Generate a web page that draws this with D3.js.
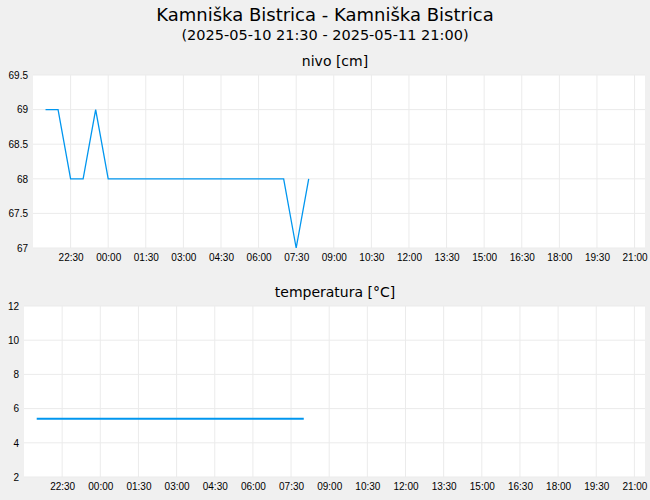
<!DOCTYPE html>
<html><head><meta charset="utf-8">
<script src="https://cdn.jsdelivr.net/npm/d3@7"></script>
<style>
body{margin:0;background:#f0f0f0;font-family:"DejaVu Sans",sans-serif;}
.tick text{font-size:10px;fill:#000;}
</style></head><body>
<svg id="c" width="650" height="500"></svg>
<script>
// level readings (time, cm)
var levelTimes = ["2025-05-10 21:30","2025-05-10 22:00","2025-05-10 22:30","2025-05-10 23:00","2025-05-10 23:30","2025-05-11 00:00","2025-05-11 07:00","2025-05-11 07:30","2025-05-11 08:00"];
var levelValues = [69, 69, 68, 68, 69, 68, 68, 67, 68];
// temperature readings (time, °C)
var tempTimes = ["2025-05-10 21:30","2025-05-11 08:00"];
var tempValues = [5.4, 5.4];
var tickLabels = ["22:30","00:00","01:30","03:00","04:30","06:00","07:30","09:00","10:30","12:00","13:30","15:00","16:30","18:00","19:30","21:00"];

var parse = d3.timeParse("%Y-%m-%d %H:%M");
var t0 = parse("2025-05-10 21:00"), t1 = parse("2025-05-11 21:25");
var tickDates = tickLabels.map(function(l, i) { return d3.timeMinute.offset(t0, 90 * (i + 1)); });

var svg = d3.select("#c");
svg.append("text").attr("x", 325).attr("y", 21).attr("text-anchor", "middle")
	.style("font-size", "18px").text("Kamniška Bistrica - Kamniška Bistrica");
svg.append("text").attr("x", 325).attr("y", 40).attr("text-anchor", "middle")
	.style("font-size", "14.5px").text("(2025-05-10 21:30 - 2025-05-11 21:00)");

function panel(o) {
	var x = d3.scaleTime().domain([t0, t1]).range([o.left, 645]);
	var y = d3.scaleLinear().domain(o.yDomain).range([o.bottom, o.top]);
	svg.append("text").attr("x", 335).attr("y", o.top - 9).attr("text-anchor", "middle")
		.style("font-size", "14px").text(o.title);
	svg.append("rect").attr("x", o.left).attr("y", o.top)
		.attr("width", 645 - o.left).attr("height", o.bottom - o.top).attr("fill", "#fff");
	var g = svg.append("g");
	g.selectAll(".vg").data(tickDates).enter().append("line")
		.attr("x1", function(d) { return x(d); }).attr("x2", function(d) { return x(d); })
		.attr("y1", o.top).attr("y2", o.bottom).attr("stroke", "#ebebeb");
	g.selectAll(".hg").data(o.yTicks).enter().append("line")
		.attr("x1", o.left).attr("x2", 645)
		.attr("y1", function(d) { return y(d); }).attr("y2", function(d) { return y(d); })
		.attr("stroke", "#ebebeb");
	var xa = svg.append("g").attr("transform", "translate(0," + o.bottom + ")")
		.call(d3.axisBottom(x).tickValues(tickDates).tickSize(0).tickPadding(6)
			.tickFormat(function(d, i) { return tickLabels[i]; }));
	xa.select(".domain").remove();
	var ya = svg.append("g").attr("transform", "translate(" + (o.left - 5) + ",0)")
		.call(d3.axisLeft(y).tickValues(o.yTicks).tickSize(0).tickPadding(0).tickFormat(o.fmt));
	ya.select(".domain").remove();
	ya.selectAll(".tick text").attr("dy", "0.32em");
	var data = o.times.map(function(t, i) { return [parse(t), o.values[i]]; });
	svg.append("path").datum(data).attr("fill", "none").attr("stroke", "#0096ef")
		.attr("stroke-width", o.sw)
		.attr("d", d3.line().x(function(d) { return x(d[0]); }).y(function(d) { return y(d[1]); }));
}

panel({title: "nivo [cm]", left: 33, top: 75, bottom: 248, yDomain: [67, 69.5],
	yTicks: [67, 67.5, 68, 68.5, 69, 69.5], fmt: d3.format(""), times: levelTimes, values: levelValues, sw: 1.3});
panel({title: "temperatura [°C]", left: 24, top: 306, bottom: 477, yDomain: [2, 12],
	yTicks: [2, 4, 6, 8, 10, 12], fmt: d3.format("d"), times: tempTimes, values: tempValues, sw: 2});
</script></body></html>
